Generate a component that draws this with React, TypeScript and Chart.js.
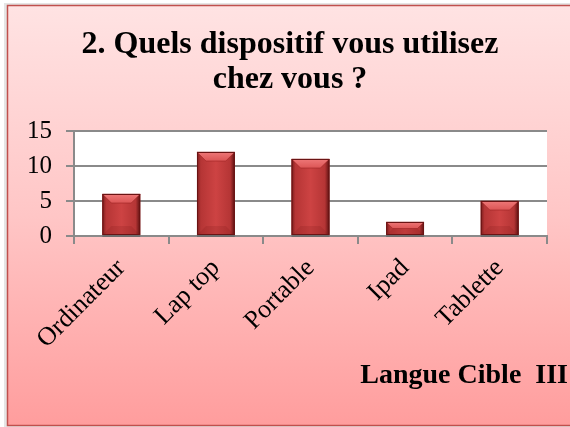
import React, { useEffect, useRef } from 'react';
import { Chart, registerables } from 'chart.js';

Chart.register(...registerables);

const categories = ['Ordinateur', 'Lap top', 'Portable', 'Ipad', 'Tablette'];
const values = [6, 12, 11, 2, 5];
const yTicks = [0, 5, 10, 15];
const titleLines = ['2. Quels dispositif vous utilisez', 'chez vous ?'];
const footerText = 'Langue Cible  III';

const SERIF = "'Liberation Serif', 'Times New Roman', serif";

const decorPlugin = {
  id: 'decor',
  beforeDraw(chart: any) {
    const { ctx, width, height, chartArea: ca } = chart;
    ctx.save();
    ctx.fillStyle = '#ffffff';
    ctx.fillRect(0, 0, width, height);
    ctx.fillStyle = 'rgba(0,0,0,0.10)';
    ctx.fillRect(4, 3, width, height);
    const g = ctx.createLinearGradient(0, 5, 0, 426);
    g.addColorStop(0, '#ffe3e3');
    g.addColorStop(0.5, '#ffc6c6');
    g.addColorStop(1, '#ff9d9d');
    ctx.fillStyle = g;
    ctx.fillRect(7, 5, width - 7, 421);
    ctx.strokeStyle = '#c0504d';
    ctx.lineWidth = 1.5;
    ctx.strokeRect(7.5, 5.5, width + 5, 420);
    ctx.fillStyle = '#ffffff';
    ctx.fillRect(ca.left, ca.top, ca.right - ca.left, ca.bottom - ca.top);
    // title
    ctx.fillStyle = '#000000';
    ctx.font = `bold 32px ${SERIF}`;
    ctx.textAlign = 'center';
    ctx.textBaseline = 'alphabetic';
    ctx.fillText(titleLines[0], 290, 53);
    ctx.fillText(titleLines[1], 290, 88);
    ctx.font = `bold 28px ${SERIF}`;
    ctx.textAlign = 'right';
    ctx.fillText(footerText, 568, 383);
    ctx.restore();
  },
  afterDatasetsDraw(chart: any) {
    const { ctx } = chart;
    const meta = chart.getDatasetMeta(0);
    ctx.save();
    meta.data.forEach((el: any) => {
      const { x, y, width, base } = el.getProps(['x', 'y', 'width', 'base'], true);
      const l = x - width / 2;
      const r = x + width / 2;
      const t = Math.min(y, base);
      const b = Math.max(y, base);
      const h = b - t;
      const bev = Math.min(9, h / 2);
      // body
      const hg = ctx.createLinearGradient(l, 0, r, 0);
      hg.addColorStop(0, '#7a1c1c');
      hg.addColorStop(0.1, '#b53535');
      hg.addColorStop(0.5, '#cd4343');
      hg.addColorStop(0.88, '#b53535');
      hg.addColorStop(1, '#5a1010');
      ctx.fillStyle = hg;
      ctx.fillRect(l, t, width, h);
      // top bevel
      ctx.beginPath();
      ctx.moveTo(l, t);
      ctx.lineTo(r, t);
      ctx.lineTo(r - bev, t + bev);
      ctx.lineTo(l + bev, t + bev);
      ctx.closePath();
      const tg = ctx.createLinearGradient(0, t, 0, t + bev);
      tg.addColorStop(0, '#ee7878');
      tg.addColorStop(1, '#dc5555');
      ctx.fillStyle = tg;
      ctx.fill();
      ctx.strokeStyle = 'rgba(150,30,30,0.5)';
      ctx.lineWidth = 1;
      ctx.stroke();
      // bottom bevel
      ctx.beginPath();
      ctx.moveTo(l, b);
      ctx.lineTo(r, b);
      ctx.lineTo(r - bev, b - bev);
      ctx.lineTo(l + bev, b - bev);
      ctx.closePath();
      ctx.fillStyle = 'rgba(120,20,20,0.18)';
      ctx.fill();
      // outline
      ctx.strokeStyle = '#6a1414';
      ctx.lineWidth = 1;
      ctx.strokeRect(l + 0.5, t + 0.5, width - 1, h - 1);
      // shadow under
      ctx.fillStyle = 'rgba(90,90,90,0.6)';
      ctx.fillRect(l, b, width, 2);
    });
    ctx.restore();
  },
};

export default function App() {
  const ref = useRef<HTMLCanvasElement>(null);
  useEffect(() => {
    if (!ref.current) return;
    const chart = new Chart(ref.current, {
      type: 'bar',
      data: {
        labels: categories,
        datasets: [
          {
            data: values,
            backgroundColor: '#c03c3c',
            borderWidth: 0,
            categoryPercentage: 1,
            barPercentage: 0.4,
          },
        ],
      },
      options: {
        responsive: false,
        animation: false,
        devicePixelRatio: 1,
        layout: { padding: { top: 131, left: 0, right: 23, bottom: 0 } },
        plugins: {
          legend: { display: false },
          title: { display: false },
          tooltip: { enabled: false },
        },
        scales: {
          x: {
            offset: true,
            afterFit: (s: any) => {
              s.height = 191;
            },
            grid: {
              offset: true,
              drawOnChartArea: false,
              drawTicks: true,
              tickLength: 8,
              color: '#8a8a8a',
              lineWidth: 2,
            },
            border: { display: true, color: '#8a8a8a', width: 2 },
            ticks: {
              minRotation: 45,
              maxRotation: 45,
              autoSkip: false,
              padding: 9,
              color: '#000000',
              font: { family: SERIF, size: 26 },
            },
          },
          y: {
            min: 0,
            max: 15,
            afterFit: (s: any) => {
              s.width = 74;
            },
            afterBuildTicks: (s: any) => {
              s.ticks = yTicks.map((v) => ({ value: v }));
            },
            grid: {
              drawOnChartArea: true,
              drawTicks: true,
              tickLength: 8,
              color: '#8a8a8a',
              lineWidth: 2,
            },
            border: { display: true, color: '#8a8a8a', width: 2 },
            ticks: {
              padding: 14,
              color: '#000000',
              font: { family: SERIF, size: 25 },
            },
          },
        },
      },
      plugins: [decorPlugin],
    });
    return () => chart.destroy();
  }, []);
  return (
    <div style={{ position: 'fixed', left: 0, top: 0, width: 570, height: 427 }}>
      <canvas ref={ref} width={570} height={427} style={{ display: 'block', width: 570, height: 427 }} />
    </div>
  );
}
